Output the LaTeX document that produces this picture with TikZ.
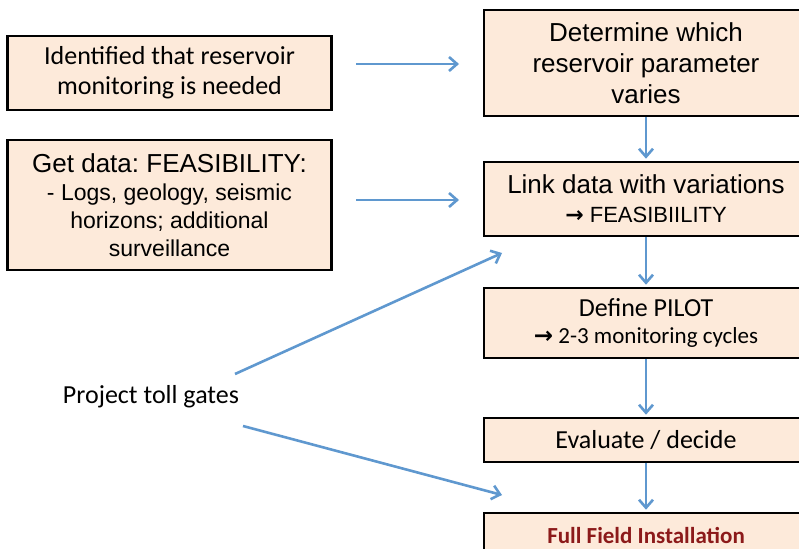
\documentclass[tikz,border=0pt]{standalone}
\usepackage{fontspec}
\setmainfont{Carlito}
\newfontfamily\arialfont{Liberation Sans}
\newfontfamily\arrowfont{DejaVu Sans}
\usetikzlibrary{arrows.meta}
\frenchspacing

\definecolor{peach}{HTML}{FDEADA}
\definecolor{flowblue}{HTML}{5F98CF}
\definecolor{darkred}{HTML}{8C1A1A}

\newcommand{\thento}{{\arrowfont\bfseries →}}

\begin{document}
\begin{tikzpicture}[x = 1pt, y = -1pt,
        box/.style  = {draw = black, line width = 2.6pt, fill = peach,
                       minimum width = 324pt, align = center, inner sep = 2pt},
        flow/.style = {draw = flowblue, line width = 2.6pt,
                       -{Straight Barb[length = 8pt, width = 14pt]}}]
        \useasboundingbox (0,0) rectangle (799,548);
        \clip (0,0) rectangle (799,548);

        % left column
        \node (ident) [box, minimum height = 74pt,
                       font = \fontsize{26}{30}\selectfont]  at (169.5, 73)
            {Identified that reservoir\\ monitoring is needed};
        \node (data)  [box, minimum height = 130pt,
                       font = \arialfont\fontsize{23}{28}\selectfont] at (169.5, 205)
            {{\fontsize{26}{28}\selectfont Get data: FEASIBILITY:}\\ - Logs, geology, seismic\\ horizons; additional\\ surveillance};
        \node (gates) [font = \fontsize{26}{30}\selectfont] at (151, 397)
            {Project toll gates};

        % right column
        \node (determine) [box, minimum height = 106pt,
                           font = \arialfont\fontsize{26}{31}\selectfont] at (646, 63)
            {Determine which\\ reservoir parameter\\ varies};
        \node (link)      [box, minimum height = 74pt,
                           font = \arialfont\fontsize{26}{29}\selectfont] at (646, 199)
            {Link data with variations\\
             {\fontsize{22}{29}\selectfont\thento{} FEASIBIILITY}};
        \node (pilot)     [box, minimum height = 70pt,
                           font = \fontsize{26}{27}\selectfont] at (646, 323)
            {Define PILOT\\
             {\fontsize{23}{27}\selectfont\thento{} 2-3 monitoring cycles}};
        \node (decide)    [box, minimum height = 44pt,
                           font = \fontsize{26}{30}\selectfont] at (646, 440)
            {Evaluate / decide};
        \node (full)      [box, minimum height = 44pt,
                           font = \fontsize{23}{26}\selectfont\bfseries] at (646, 535)
            {\color{darkred}Full Field Installation};

        % free arrow ends
        \coordinate (ident out)  at (356, 64);
        \coordinate (ident in)   at (459, 64);
        \coordinate (data out)   at (356, 200);
        \coordinate (data in)    at (459, 200);
        \coordinate (gates up)   at (235, 374);
        \coordinate (gates upto) at (502, 253);
        \coordinate (gates dn)   at (243, 426);
        \coordinate (gates dnto) at (502, 495);

        \draw[flow] (ident out) -- (ident in);
        \draw[flow] (data out)  -- (data in);
        \draw[flow] (gates up)  -- (gates upto);
        \draw[flow] (gates dn)  -- (gates dnto);

        \draw[flow, shorten >= 2pt] (determine) -- (link);
        \draw[flow, shorten >= 2pt] (link)      -- (pilot);
        \draw[flow, shorten >= 2pt] (pilot)     -- (decide);
        \draw[flow, shorten >= 2pt] (decide)    -- (full);

    \end{tikzpicture}
\end{document}
